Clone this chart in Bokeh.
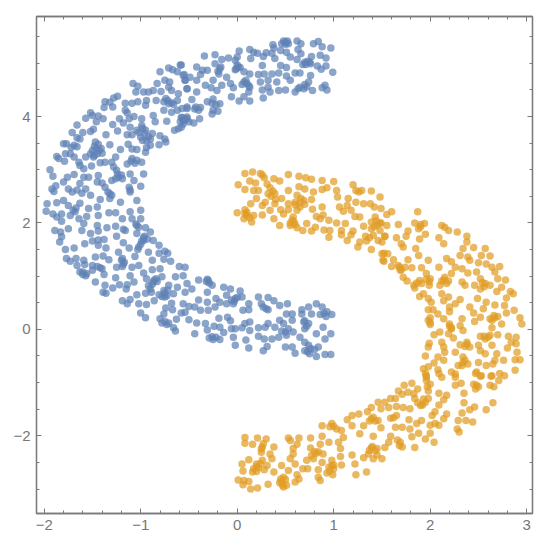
from bokeh.plotting import figure
from bokeh.models import FixedTicker, LinearAxis, Range1d
from bokeh.embed import file_html
from bokeh.resources import INLINE

x_major = [-2, -1, 0, 1, 2, 3]
y_major = [-2, 0, 2, 4]
x_minor = [-2.0,-1.8,-1.6,-1.4,-1.2,-0.8,-0.6,-0.4,-0.2,0.2,0.4,0.6,0.8,1.2,1.4,1.6,1.8,2.2,2.4,2.6,2.8]
y_minor = [-3,-2.5,-1.5,-1,-0.5,0.5,1,1.5,2.5,3,3.5,4.5,5,5.5]

blue_points = [
(-0.59,4.97),(-0.71,4.91),(-0.67,4.88),(-0.62,4.84),(-0.80,4.84),(-0.55,4.79),(-0.54,4.68),(-0.75,4.68),(-0.70,4.65),(-0.83,4.62),
(-1.08,4.62),(-1.03,4.57),(-1.05,4.46),(-0.97,4.46),(-0.92,4.46),(-0.87,4.49),(-0.79,4.47),(-0.71,4.55),(-0.68,4.49),(-0.52,4.52),
(-0.61,4.43),(-1.24,4.38),(-1.28,4.35),(-1.37,4.28),(-1.32,4.27),(-1.38,4.17),(-1.29,4.18),(-1.16,4.25),(-1.09,4.25),(-1.03,4.28),
(-0.94,4.30),(-0.84,4.30),(-0.76,4.28),(-0.71,4.24),(-0.62,4.30),(-0.52,4.18),(-0.95,4.21),(-1.16,4.12),(-1.14,4.07),(-1.52,4.07),
(-1.44,4.01),(-1.57,3.97),(-1.50,4.02),(-1.39,3.96),(-1.46,3.90),(-1.22,3.96),(-1.07,4.00),(-1.12,3.96),(-0.99,3.96),(-0.87,4.02),
(-0.62,4.12),(-0.68,4.08),(-0.76,4.12),(-1.29,3.85),(-1.18,3.88),(-1.11,3.80),(-1.24,3.73),(-1.66,3.84),(-1.49,3.76),(-1.52,3.72),
(-1.71,3.70),(-1.60,3.70),(-0.99,3.83),(-0.85,3.90),(-0.73,3.91),(-0.56,3.93),(-0.52,3.99),(-0.61,3.77),(-0.65,3.74),(-1.36,3.66),
(-1.14,3.66),(-1.09,3.66),(-0.95,3.74),(-1.00,3.61),(-0.88,3.68),(-0.80,3.64),(-0.75,3.58),(-1.66,3.60),(-1.63,3.58),(-1.80,3.49),
(-1.77,3.49),(-1.69,3.46),(-1.66,3.43),(-1.47,3.52),(-1.44,3.48),(-1.32,3.47),(-1.13,3.48),(-0.94,3.55),(-0.90,3.46),(-0.81,3.47),
(-0.74,3.52),(-1.21,3.38),(-1.09,3.39),(-1.04,3.38),(-0.95,3.33),(-1.50,3.36),(-1.45,3.30),(-1.40,3.31),(-1.78,3.30),(-1.73,3.30),
(-1.69,3.24),(-1.87,3.25),(-1.85,3.21),(-1.79,3.16),(-1.64,3.14),(-1.57,3.24),(-1.49,3.24),(-1.26,3.24),(-1.09,3.21),(-1.04,3.18),
(-0.99,3.14),(-1.63,3.08),(-1.59,3.02),(-1.51,3.07),(-1.42,3.13),(-1.37,3.14),(-1.30,3.14),(-1.14,3.11),(-1.94,3.00),(-1.91,2.88),
(-1.69,2.91),(-1.76,2.86),(-1.28,3.05),(-1.25,2.99),(-0.97,2.92),(-1.59,2.86),(-1.54,2.86),(-1.44,2.89),(-1.23,2.86),(-1.11,2.92),
(-1.80,2.77),(-1.63,2.74),(-1.45,2.77),(-1.40,2.75),(-1.30,2.80),(-1.19,2.83),(-1.07,2.80),(-1.88,2.70),(-1.92,2.64),(-1.75,2.64),
(-1.66,2.62),(-1.57,2.64),(-1.37,2.67),(-1.12,2.67),(-1.00,2.69),(-1.11,2.62),
(0.50,5.40),(0.46,5.37),(0.53,5.37),(0.62,5.42),(0.66,5.37),(0.84,5.41),(0.79,5.37),(0.88,5.31),(0.97,5.29),(0.37,5.35),
(0.38,5.29),(0.13,5.26),(0.17,5.21),(0.21,5.19),(0.02,5.23),(0.00,5.12),(0.30,5.20),(0.36,5.19),(0.45,5.24),(0.51,5.21),
(0.63,5.26),(0.66,5.18),(-0.34,5.14),(-0.23,5.16),(-0.16,5.07),(-0.09,5.10),(-0.02,5.06),(0.14,5.09),(0.27,5.13),(0.39,5.09),
(0.55,5.12),(0.62,5.07),(0.77,5.13),(0.86,5.15),(0.92,5.10),(-0.58,4.97),(-0.42,4.93),(-0.23,4.99),(-0.18,4.90),(0.01,4.93),
(-0.02,4.88),(0.26,4.96),(0.45,4.96),(0.51,4.92),(0.70,5.02),(0.76,4.99),(0.83,4.95),(0.92,4.95),(0.87,4.89),(0.99,4.83),
(-0.31,4.87),(-0.36,4.87),(-0.19,4.80),(0.07,4.84),(0.13,4.80),(0.22,4.79),(0.28,4.80),(0.36,4.80),(0.43,4.82),(0.60,4.82),
(0.65,4.82),(0.76,4.77),(-0.56,4.77),(-0.49,4.74),(-0.38,4.79),(0.51,4.76),(-0.11,4.74),(-0.07,4.62),(0.07,4.65),(0.10,4.62),
(0.24,4.65),(0.32,4.68),(0.41,4.65),(0.55,4.68),(0.74,4.65),(-0.54,4.68),(-0.42,4.68),(-0.25,4.68),(-0.33,4.59),(-0.16,4.59),
(-0.27,4.54),(-0.04,4.54),(0.13,4.55),(0.32,4.55),(0.26,4.50),(0.34,4.46),(0.43,4.49),(0.50,4.50),(0.63,4.52),(0.69,4.52),
(0.60,4.46),(0.78,4.49),(0.88,4.54),(0.91,4.59),(0.93,4.50),(-0.52,4.52),(-0.42,4.46),(-0.21,4.49),(0.12,4.46),(0.27,4.35),
(0.07,4.37),(-0.06,4.37),(0.02,4.29),(0.13,4.29),(-0.31,4.28),(-0.25,4.33),(-0.18,4.24),(-0.47,4.32),(-0.57,4.15),(-0.52,4.15),
(-0.43,4.18),(-0.38,4.17),(-0.25,4.12),(-0.20,4.10),(-0.26,4.05),(-0.57,3.98),(-0.52,3.96),(-0.45,3.88),(-0.39,3.96),(-0.56,3.86),
(-0.58,3.80),
(-1.90,2.59),(-1.71,2.58),(-1.61,2.56),(-1.52,2.52),(-1.32,2.55),(-1.11,2.58),(-1.80,2.42),(-1.97,2.36),(-1.87,2.38),(-1.75,2.33),
(-1.63,2.37),(-1.54,2.27),(-1.45,2.30),(-1.42,2.44),(-1.32,2.46),(-1.21,2.39),(-1.04,2.42),(-1.00,2.24),(-1.98,2.22),(-1.91,2.17),
(-1.87,2.11),(-1.82,2.17),(-1.82,2.03),(-1.73,2.14),(-1.68,2.21),(-1.56,2.12),(-1.44,2.14),(-1.33,2.19),(-1.26,2.19),(-1.11,2.21),
(-1.19,2.08),(-1.09,2.08),(-1.00,2.08),(-1.64,2.08),(-1.59,1.99),(-1.45,1.95),(-1.35,1.91),(-1.26,1.94),(-1.04,1.95),(-0.95,1.91),
(-1.89,1.86),(-1.83,1.83),(-1.75,1.89),(-1.61,1.86),(-1.44,1.85),(-1.52,1.80),(-1.16,1.86),(-1.25,1.75),(-1.04,1.80),(-0.90,1.83),
(-1.82,1.74),(-1.84,1.64),(-1.50,1.66),(-1.44,1.68),(-1.38,1.69),(-1.58,1.61),(-1.44,1.58),(-1.18,1.63),(-0.97,1.67),(-0.87,1.67),
(-0.81,1.58),(-1.12,1.53),(-1.36,1.53),(-1.78,1.50),(-1.69,1.53),(-1.23,1.45),(-1.02,1.55),(-0.92,1.45),(-0.81,1.43),(-0.75,1.47),
(-0.72,1.43),(-1.47,1.36),(-1.39,1.38),(-1.33,1.31),(-1.77,1.33),(-1.73,1.28),(-1.67,1.33),(-1.59,1.30),(-1.19,1.33),(-1.06,1.37),
(-0.88,1.30),(-0.76,1.32),(-0.69,1.28),(-1.66,1.20),(-1.58,1.22),(-1.50,1.20),(-1.42,1.16),(-1.18,1.23),(-1.25,1.17),(-1.09,1.17),
(-1.02,1.20),(-0.80,1.14),(-0.60,1.18),(-0.54,1.17),(-1.63,1.08),(-1.57,1.01),(-1.50,1.11),(-1.38,1.03),(-1.11,1.01),(-0.97,1.06),
(-0.88,1.12),(-0.78,0.99),(-0.64,0.99),(-0.56,1.01),(-1.26,0.97),(-0.94,0.95),(-0.84,0.95),(-1.47,0.89),(-1.37,0.83),(-1.22,0.84),
(-1.14,0.84),(-1.07,0.89),(-0.87,0.89),(-0.71,0.83),(-0.62,0.79),(-1.29,0.78),(-1.15,0.76),(-0.90,0.76),(-0.52,0.86),(-1.39,0.70),
(-1.36,0.68),(-0.95,0.68),(-1.04,0.65),(-0.76,0.73),(-0.72,0.74),(-0.81,0.65),(-0.66,0.67),(-0.54,0.70),(-1.19,0.54),(-1.11,0.56),
(-1.14,0.48),(-1.02,0.48),(-0.94,0.47),(-0.86,0.54),(-0.75,0.61),(-0.68,0.49),(-0.56,0.48),(-0.50,0.43),(-0.74,0.40),(-0.67,0.37),
(-0.58,0.31),(-0.54,0.32),(-1.00,0.31),(-0.95,0.22),(-0.76,0.29),(-0.80,0.20),(-0.63,0.19),(-0.50,0.18),(-0.78,0.12),(-0.73,0.09),
(-0.66,0.03),(-0.64,-0.03),
(-0.40,0.93),(-0.30,0.92),(-0.26,0.83),(-0.31,0.70),(-0.47,0.76),(-0.14,0.79),(-0.07,0.76),(0.03,0.72),(0.05,0.61),(-0.11,0.64),
(-0.02,0.58),(0.22,0.61),(0.32,0.60),(0.38,0.54),(0.52,0.48),(0.25,0.48),(0.44,0.45),(0.12,0.48),(-0.04,0.48),(-0.11,0.48),
(-0.22,0.58),(-0.18,0.51),(-0.40,0.55),(-0.31,0.51),(-0.44,0.42),(-0.23,0.42),(-0.38,0.36),(-0.30,0.36),(0.12,0.37),(0.06,0.36),
(0.32,0.37),(0.74,0.42),(0.82,0.48),(0.88,0.42),(0.67,0.37),(0.93,0.33),(0.98,0.28),(0.51,0.29),(0.57,0.29),(0.67,0.29),
(0.77,0.29),(-0.19,0.21),(-0.10,0.23),(-0.07,0.16),(0.44,0.17),(0.57,0.17),(-0.42,0.12),(-0.33,0.11),(0.13,0.14),(0.08,0.11),
(0.32,0.11),(0.48,0.11),(0.69,0.14),(0.74,0.11),(-0.31,-0.01),(-0.24,0.06),(-0.18,0.04),(-0.06,0.01),(0.05,0.03),(0.13,-0.02),
(0.22,0.03),(0.29,0.04),(0.39,0.04),(0.53,0.01),(0.70,0.01),(0.89,0.04),(-0.44,-0.08),(-0.14,-0.06),(-0.02,0.01),(0.58,-0.05),
(0.82,-0.08),(0.97,-0.08),(-0.29,-0.16),(-0.25,-0.19),(-0.18,-0.19),(-0.04,-0.15),(0.09,-0.20),(0.22,-0.13),(0.28,-0.18),(0.36,-0.18),
(0.43,-0.15),(0.51,-0.11),(0.65,-0.15),(0.70,-0.24),(0.91,-0.18),(-0.02,-0.30),(0.12,-0.35),(0.27,-0.40),(0.31,-0.32),(0.50,-0.33),
(0.57,-0.33),(0.74,-0.30),(0.84,-0.33),(0.60,-0.45),(0.70,-0.40),(0.75,-0.46),(0.82,-0.51),(0.91,-0.47),(0.97,-0.47),
(-0.98,3.78),(-0.96,3.68),(-1.02,3.70),(-0.92,3.62),(-0.98,3.55),(-0.90,3.58),(-1.04,3.74),(-0.94,3.42),(-1.48,3.44),(-1.46,3.40),
(-1.52,3.30),(-1.43,3.36),(-1.48,3.27),(-1.41,3.40),(-1.72,3.42),(-1.24,2.92),(-1.20,2.90),(-1.26,2.83),(-1.10,3.16),(-1.06,3.12),
(-0.72,4.30),(-0.68,4.26),(-0.66,4.23),(-0.74,4.34),(-0.54,3.96),(-0.58,3.98),(-0.50,3.90),(0.48,5.42),(0.52,5.42),(0.50,5.36),
(0.71,4.98),(0.73,5.04),(0.68,4.98),(0.75,5.02),(0.00,4.97),(0.03,4.92),(-0.01,4.90),(-0.20,4.85),(-0.17,4.93),(0.09,4.68),
(0.05,4.60),(0.12,4.58),(0.70,4.60),(0.72,4.56),(0.65,4.55),(-0.26,4.25),(-0.22,4.22),(-0.44,4.14),(-0.40,4.12),(-0.55,3.92),
(-0.59,3.90),(-0.97,1.72),(-0.96,1.75),(-0.99,1.66),(-1.00,1.60),(-1.03,1.50),(-0.93,1.70),(-1.05,1.98),(-1.02,1.92),(-1.20,1.30),
(-1.17,1.26),(-1.19,1.18),(-1.60,1.03),(-1.56,1.05),(-1.60,1.08),(-1.45,1.18),(-1.40,1.14),(-0.86,0.93),(-0.83,0.90),(-0.88,0.85),
(-0.92,0.82),(-0.89,0.70),(-0.75,0.68),(-0.78,0.62),(-0.73,0.63),(-1.70,2.24),(-1.67,2.28),(-1.34,2.58),(-1.30,2.52),(-0.75,0.15),
(-0.71,0.12),(-1.18,1.88),(-0.32,0.90),(-0.29,0.87),(-0.31,0.94),(-0.03,0.53),(-0.06,0.55),(0.00,0.60),(0.30,0.39),(0.27,0.42),
(0.90,0.30),(0.86,0.28),(0.92,0.24),(0.72,0.06),(0.70,0.16),(0.50,-0.05),(0.46,-0.03),(0.76,-0.36),(0.73,-0.42),(0.80,-0.38),
(-0.26,-0.14),(-0.22,-0.15),
]

orange_points = [
(0.08,2.93),(0.16,2.96),(0.24,2.93),(0.53,2.91),(0.64,2.88),(0.71,2.85),(0.77,2.82),(0.88,2.80),(1.00,2.78),(0.28,2.85),
(0.38,2.83),(0.44,2.79),(0.01,2.72),(0.13,2.79),(0.19,2.75),(0.31,2.73),(0.64,2.68),(0.08,2.63),(0.17,2.61),(0.22,2.61),
(0.34,2.66),(0.53,2.61),(0.70,2.64),(0.79,2.58),(0.88,2.63),(0.93,2.66),(1.03,2.61),(1.20,2.72),(1.23,2.61),(1.29,2.61),
(1.39,2.60),(1.48,2.49),(0.39,2.55),(0.32,2.55),(0.62,2.52),(0.77,2.44),(1.04,2.49),(0.20,2.46),(0.29,2.39),(0.46,2.46),
(0.53,2.36),(0.69,2.42),(1.15,2.46),(1.23,2.39),(1.31,2.36),(1.38,2.36),(1.42,2.30),(0.14,2.36),(0.26,2.33),(0.39,2.36),
(0.60,2.39),(0.65,2.30),(0.88,2.30),(1.06,2.30),(1.14,2.33),(1.49,2.27),(0.08,2.25),(0.34,2.24),(0.45,2.25),(0.53,2.25),
(0.62,2.24),(0.78,2.26),(1.10,2.22),(1.18,2.24),(0.00,2.19),(0.10,2.14),(0.17,2.14),(0.26,2.15),(0.38,2.08),(0.48,2.17),
(0.58,2.11),(0.89,2.15),(0.82,2.12),(0.86,2.08),(1.22,2.12),(1.27,2.11),(1.43,2.11),(0.07,2.08),(0.15,2.02),(0.57,2.05),
(0.72,1.99),(0.95,2.05),(1.03,2.00),(1.12,1.99),(1.31,1.94),(1.39,2.02),(1.48,2.00),(0.44,1.95),(0.55,1.95),(0.62,1.91),
(0.68,1.86),(0.81,1.92),(0.77,1.85),(0.90,1.87),(0.96,1.86),(1.08,1.86),(1.20,1.85),(1.39,1.89),(1.48,1.86),(0.95,1.73),
(1.08,1.78),(1.18,1.78),(1.33,1.75),(1.41,1.77),(1.14,1.67),(1.27,1.64),(1.46,1.67),(1.53,1.75),(1.25,1.55),(1.39,1.50),
(1.50,1.42),(1.51,1.30),
(1.60,2.21),(1.55,2.16),(1.87,2.21),(1.49,2.00),(1.55,1.95),(1.67,1.97),(1.84,2.00),(1.94,1.99),(1.88,1.89),(2.12,1.95),
(2.19,1.86),(2.15,1.92),(2.28,1.83),(1.77,1.85),(1.65,1.72),(1.53,1.75),(1.75,1.75),(1.95,1.79),(1.89,1.70),(2.09,1.72),
(2.38,1.75),(1.50,1.64),(1.70,1.61),(1.72,1.55),(1.85,1.52),(2.14,1.61),(2.38,1.64),(2.34,1.52),(2.45,1.54),(2.57,1.52),
(1.52,1.43),(1.56,1.42),(1.88,1.39),(2.31,1.39),(2.39,1.36),(2.53,1.39),(2.62,1.38),(1.52,1.28),(1.62,1.31),(1.77,1.31),
(1.98,1.30),(2.17,1.33),(2.41,1.30),(2.22,1.27),(2.50,1.25),(2.58,1.23),(2.72,1.18),(1.60,1.18),(1.67,1.20),(1.74,1.17),
(1.81,1.16),(1.91,1.16),(2.09,1.17),(2.26,1.17),(2.33,1.14),(2.64,1.17),(1.69,1.11),(2.22,1.05),(2.48,1.08),(2.39,1.06),
(2.67,1.08),(1.72,0.98),(1.96,1.05),(2.00,0.95),(2.15,0.98),(2.52,0.95),(2.70,0.95),(2.78,0.93),(1.76,0.91),(1.83,0.83),
(1.91,0.86),(1.99,0.83),(2.12,0.91),(2.19,0.91),(2.33,0.89),(2.57,0.86),(2.10,0.83),(2.36,0.83),(2.46,0.83),(2.52,0.76),
(2.62,0.83),(2.74,0.79),(2.69,0.71),(2.83,0.71),(2.86,0.67),(1.93,0.67),(2.12,0.67),(2.19,0.61),(1.89,0.62),(1.98,0.58),
(2.31,0.56),(2.49,0.58),(2.79,0.59),(2.01,0.51),(2.14,0.54),(2.26,0.48),(2.41,0.42),(2.58,0.51),(2.67,0.46),(2.77,0.45),
(2.20,0.42),(1.98,0.37),(2.03,0.37),(2.55,0.39),(2.87,0.36),(2.08,0.29),(2.20,0.33),(2.45,0.31),(2.52,0.23),(2.70,0.24),
(2.79,0.31),(2.93,0.22),(2.00,0.22),(2.14,0.20),(2.33,0.20),(2.46,0.15),(2.62,0.20),(2.67,0.22),(2.00,0.09),(2.20,0.10),
(2.31,0.07),(2.74,0.10),(2.95,0.10),(2.22,0.01),(2.34,-0.02),(2.64,0.03),(2.10,-0.05),(2.04,-0.10),(2.19,-0.08),(2.52,-0.13),
(2.70,-0.10),(2.62,-0.11),(2.57,-0.18),(2.81,-0.13),(2.89,-0.15),(2.24,-0.16),(1.99,-0.26),(2.12,-0.24),(2.38,-0.24),(2.64,-0.30),
(2.84,-0.24),(1.98,-0.33),(2.14,-0.33),(2.31,-0.29),(2.41,-0.33),(2.50,-0.30),(2.89,-0.27),(2.15,-0.43),(2.26,-0.43),(2.52,-0.40),
(2.69,-0.46),(2.80,-0.35),(1.95,-0.50),(2.08,-0.52),(2.34,-0.52),(2.57,-0.46),(2.90,-0.43),(2.34,-0.62),(2.39,-0.65),(2.50,-0.62),
(2.67,-0.58),(2.76,-0.58),(2.88,-0.57),(2.93,-0.57),(2.14,-0.58),(2.04,-0.63),(1.98,-0.70),(1.93,-0.74),(2.29,-0.68),(2.58,-0.68),
(2.65,-0.65),(2.88,-0.77),(2.08,-0.76),(2.22,-0.80),(2.48,-0.80),(2.64,-0.87),(2.72,-0.83),(2.77,-0.87),(1.96,-0.87),(2.12,-0.90),
(2.26,-0.84),(2.52,-0.88),
(1.95,-0.83),(2.09,-0.83),(2.26,-0.90),(2.47,-0.83),(2.53,-0.87),(2.63,-0.88),(2.71,-0.96),(1.73,-1.05),(1.81,-1.01),(1.96,-0.96),
(2.26,-1.05),(2.32,-1.01),(2.45,-1.03),(2.62,-1.05),(1.87,-1.12),(1.67,-1.16),(1.77,-1.18),(1.71,-1.22),(1.98,-1.16),(2.09,-1.20),
(2.35,-1.20),(2.47,-1.12),(2.66,-1.08),(2.17,-1.24),(1.59,-1.30),(1.64,-1.30),(1.83,-1.21),(1.84,-1.30),(1.53,-1.37),(1.46,-1.37),
(2.14,-1.32),(1.95,-1.37),(2.65,-1.38),(2.35,-1.38),(2.09,-1.42),(1.90,-1.43),(1.49,-1.49),(1.57,-1.47),(1.65,-1.45),(1.72,-1.47),
(1.79,-1.49),(2.46,-1.46),(2.41,-1.51),(2.58,-1.51),(2.17,-1.59),(2.05,-1.55),(2.33,-1.57),(2.02,-1.62),(2.14,-1.68),(1.59,-1.67),
(1.65,-1.62),(1.78,-1.70),(1.46,-1.71),(2.29,-1.71),(2.37,-1.71),(2.44,-1.74),(1.91,-1.71),(1.86,-1.77),(2.05,-1.77),(2.00,-1.80),
(1.49,-1.85),(1.64,-1.84),(1.71,-1.84),(1.79,-1.87),(2.28,-1.87),(2.30,-1.93),(2.09,-1.80),(1.88,-1.95),(2.00,-1.95),(1.81,-2.02),
(1.59,-2.01),(1.95,-2.06),(2.04,-2.12),(1.57,-2.12),(1.69,-2.12),(1.71,-2.21),(1.84,-2.22),(1.53,-2.22),(1.45,-2.24),
(1.39,-1.47),(1.35,-1.55),(1.19,-1.62),(1.26,-1.59),(1.14,-1.70),(1.39,-1.68),(0.88,-1.81),(0.98,-1.77),(1.03,-1.87),(1.08,-1.90),
(1.19,-1.81),(1.31,-1.81),(1.27,-1.96),(1.41,-2.01),(0.88,-2.01),(0.08,-2.03),(0.21,-2.04),(0.30,-2.06),(0.53,-2.04),(0.64,-2.04),
(0.76,-2.04),(0.08,-2.14),(0.16,-2.16),(0.26,-2.21),(0.38,-2.21),(0.62,-2.16),(0.86,-2.16),(0.95,-2.12),(1.05,-2.12),(1.10,-2.03),
(0.55,-2.09),(0.25,-2.31),(0.58,-2.24),(0.76,-2.23),(1.07,-2.24),(1.39,-2.23),(0.34,-2.34),(0.58,-2.34),(0.82,-2.33),(0.89,-2.34),
(1.19,-2.36),(1.36,-2.34),(1.43,-2.28),(0.12,-2.45),(0.26,-2.46),(0.36,-2.43),(0.55,-2.43),(0.72,-2.46),(0.79,-2.43),(0.98,-2.46),
(1.07,-2.39),(1.31,-2.41),(1.41,-2.43),(1.50,-2.43),(0.05,-2.53),(0.20,-2.53),(0.31,-2.56),(0.46,-2.56),(0.60,-2.53),(0.88,-2.50),
(1.08,-2.55),(1.22,-2.53),(0.17,-2.62),(0.28,-2.64),(0.68,-2.62),(0.73,-2.62),(0.95,-2.59),(1.00,-2.62),(1.23,-2.73),(1.34,-2.68),
(0.06,-2.66),(0.20,-2.67),(0.38,-2.68),(0.62,-2.73),(0.84,-2.64),(0.93,-2.70),(0.99,-2.73),(0.53,-2.65),(0.01,-2.83),(0.07,-2.84),
(0.12,-2.86),(0.45,-2.81),(0.48,-2.78),(0.64,-2.81),(0.84,-2.78),(0.86,-2.84),(0.60,-2.87),(0.06,-2.92),(0.32,-2.91),(0.47,-2.93),
(0.51,-2.93),(0.14,-3.00),(0.21,-2.98),
(0.37,2.60),(0.35,2.50),(0.40,2.44),(0.66,2.46),(0.65,2.38),(0.60,2.34),(0.70,2.35),(0.59,2.02),(0.55,2.00),(0.60,1.97),
(1.26,2.58),(1.45,1.96),(1.42,1.93),(1.44,2.04),(0.10,2.20),(0.08,2.18),(0.13,2.10),(0.26,2.90),(1.37,1.72),(1.34,1.66),
(1.86,0.87),(1.89,0.92),(1.84,0.78),(1.96,0.94),(1.99,0.90),(2.14,0.93),(2.17,0.86),(1.68,1.17),(1.70,1.12),(1.90,1.93),
(1.90,1.97),(2.54,0.88),(2.56,0.80),(2.20,0.06),(2.22,0.03),(2.36,-0.32),(2.38,-0.28),(2.36,-0.58),(2.33,-0.68),(2.66,0.26),
(2.64,0.17),(1.98,0.17),(2.00,0.13),(2.60,-0.15),(2.56,-0.13),(0.20,-2.58),(0.22,-2.60),(0.16,-2.68),(0.24,-2.52),(0.46,-2.86),
(0.44,-2.88),(0.48,-2.96),(0.50,-2.82),(0.98,-2.56),(1.00,-2.55),(0.96,-2.66),(1.41,-1.65),(1.43,-1.72),(1.37,-1.72),(0.80,-2.30),
(0.77,-2.37),(0.84,-2.30),(0.96,-1.83),(1.00,-1.82),(0.27,-2.15),(0.25,-2.25),(1.40,-2.20),(1.37,-2.27),(1.45,-2.36),(1.93,-1.31),
(1.98,-1.30),(1.87,-1.38),(1.92,-1.42),(1.96,-0.90),(2.00,-1.03),(1.97,-1.08),(2.48,-1.05),(2.50,-1.08),(1.66,-2.08),(1.68,-2.18),
(1.62,-1.66),
]

BLUE = "#5E81B5"
ORANGE = "#E19C24"
FRAME = "#7a7a7a"
LABEL = "#777777"

p = figure(width=542, height=540, output_backend="svg", toolbar_location=None,
           x_range=Range1d(-2.08, 3.06), y_range=Range1d(-3.46, 5.88),
           min_border_left=36, min_border_top=16, min_border_right=10, min_border_bottom=27,
           background_fill_color="white", border_fill_color="white", x_axis_location="below", y_axis_location="left")
p.grid.visible = False
p.outline_line_color = FRAME
p.outline_line_width = 1.3

def style(ax, major, minor, show):
    ax.ticker = FixedTicker(ticks=major, minor_ticks=minor)
    ax.axis_line_color = FRAME
    ax.axis_line_width = 1.3
    ax.major_tick_line_color = FRAME
    ax.minor_tick_line_color = FRAME
    ax.major_tick_in = 5
    ax.major_tick_out = 0
    ax.minor_tick_in = 3
    ax.minor_tick_out = 0
    ax.major_label_text_color = LABEL
    ax.major_label_text_font = "Liberation Sans"
    ax.major_label_text_font_size = "15px"
    ax.major_label_standoff = 6
    if not show:
        ax.major_label_text_font_size = "0px"
        ax.major_label_text_color = None

style(p.xaxis[0], x_major, x_minor, True)
style(p.yaxis[0], y_major, y_minor, True)
top = LinearAxis(); right = LinearAxis()
p.add_layout(top, "above"); p.add_layout(right, "right")
style(top, x_major, x_minor, False)
style(right, y_major, y_minor, False)
top.major_label_standoff = 0
right.major_label_standoff = 0

bx, by = zip(*blue_points)
ox, oy = zip(*orange_points)
p.scatter(list(bx), list(by), size=7.5, fill_color=BLUE, fill_alpha=0.72, line_color=None)
p.scatter(list(ox), list(oy), size=7.5, fill_color=ORANGE, fill_alpha=0.72, line_color=None)

open("out.html", "w").write(file_html(p, INLINE))
